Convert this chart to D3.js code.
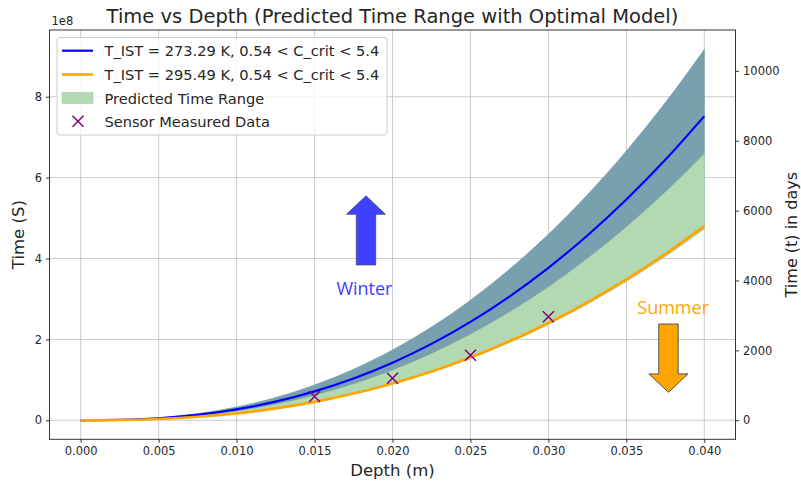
<!DOCTYPE html>
<html>
<head>
    <meta charset="utf-8">
    <title>Time vs Depth</title>
    <script src="https://cdnjs.cloudflare.com/ajax/libs/d3/7.8.5/d3.min.js"></script>
    <style>
        body { margin: 0; background: #fff; }
        text { font-family: "DejaVu Sans", sans-serif; fill: #262626; }
    </style>
</head>
<body>
<script type="text/javascript">
    // depth samples (m) and curves, in units of 1e8 s
    var depth = [0, 0.0025, 0.005, 0.0075, 0.01, 0.0125, 0.015, 0.0175, 0.02,
                 0.0225, 0.025, 0.0275, 0.03, 0.0325, 0.035, 0.0375, 0.04];
    var winterLine = [0, 0.0097, 0.051, 0.135, 0.270, 0.461, 0.715, 1.034, 1.425,
                      1.89, 2.434, 3.06, 3.77, 4.57, 5.46, 6.44, 7.52];
    var winterUpper = [0, 0.0118, 0.062, 0.165, 0.329, 0.562, 0.872, 1.261, 1.739,
                       2.306, 2.969, 3.733, 4.599, 5.575, 6.661, 7.857, 9.17];
    var winterLower = [0, 0.0085, 0.045, 0.119, 0.237, 0.405, 0.628, 0.908, 1.251,
                       1.659, 2.137, 2.687, 3.310, 4.012, 4.794, 5.654, 6.60];
    var summerLine = [0, 0.0062, 0.0326, 0.0862, 0.172, 0.294, 0.456, 0.660, 0.910,
                      1.206, 1.554, 1.953, 2.406, 2.917, 3.485, 4.111, 4.80];
    var summerLower = [0, 0.0061, 0.0321, 0.0849, 0.170, 0.290, 0.449, 0.650, 0.896,
                       1.188, 1.531, 1.924, 2.370, 2.873, 3.433, 4.049, 4.73];

    var sensorDepth = [0.015, 0.020, 0.025, 0.030];
    var sensorTime = [0.59, 1.04, 1.61, 2.56];

    var xTicks = [0, 0.005, 0.01, 0.015, 0.02, 0.025, 0.03, 0.035, 0.04];
    var yTicks = [0, 2, 4, 6, 8];
    var dayTicks = [0, 2000, 4000, 6000, 8000, 10000];

    var legendLabels = ["T_IST = 273.29 K, 0.54 < C_crit < 5.4",
                        "T_IST = 295.49 K, 0.54 < C_crit < 5.4",
                        "Predicted Time Range",
                        "Sensor Measured Data"];

    // annotation arrows: [x, yStart, yEnd] in data units (1e8 s)
    var winterArrow = [0.0183, 3.84, 5.55];
    var summerArrow = [0.0377, 2.38, 0.69];

    var width = 801,
        height = 486,
        plotL = 49.5, plotR = 735.5, plotT = 30, plotB = 439.3,
        sec = 1e8, secPerDay = 86400;

    var x = d3.scaleLinear().domain([-0.002, 0.042]).range([plotL, plotR]),
        y = d3.scaleLinear().domain([-0.47, 9.65]).range([plotB, plotT]),
        yDays = d3.scaleLinear()
            .domain([-0.47 * sec / secPerDay, 9.65 * sec / secPerDay])
            .range([plotB, plotT]);

    var svg = d3.select("body").append("svg")
        .attr("width", width)
        .attr("height", height);

    svg.append("defs").append("clipPath").attr("id", "plot")
        .append("rect")
        .attr("x", plotL).attr("y", plotT)
        .attr("width", plotR - plotL).attr("height", plotB - plotT);

    // grid
    var grid = svg.append("g").attr("stroke", "#b0b0b0").attr("stroke-width", 0.8).attr("opacity", 0.8);
    grid.selectAll("line.gx").data(xTicks).enter().append("line")
        .attr("x1", function(d){ return x(d); }).attr("x2", function(d){ return x(d); })
        .attr("y1", plotT).attr("y2", plotB);
    grid.selectAll("line.gy").data(yTicks).enter().append("line")
        .attr("y1", function(d){ return y(d); }).attr("y2", function(d){ return y(d); })
        .attr("x1", plotL).attr("x2", plotR);

    var plot = svg.append("g").attr("clip-path", "url(#plot)");

    function band(lo, hi){
        return d3.area()
            .x(function(d, i){ return x(depth[i]); })
            .y0(function(d, i){ return y(lo[i]); })
            .y1(function(d, i){ return y(hi[i]); })
            .curve(d3.curveMonotoneX)(depth);
    }
    function curve(vals){
        return d3.line()
            .x(function(d, i){ return x(depth[i]); })
            .y(function(d, i){ return y(vals[i]); })
            .curve(d3.curveMonotoneX)(depth);
    }

    plot.append("path").attr("d", band(summerLower, winterLower))
        .attr("fill", "#b2d9b2").attr("stroke", "#8fbf8f").attr("stroke-width", 0.6);
    plot.append("path").attr("d", band(winterLower, winterUpper))
        .attr("fill", "#79a0ae").attr("stroke", "#6e97a6").attr("stroke-width", 0.6);

    plot.append("path").attr("d", curve(winterLine))
        .attr("fill", "none").attr("stroke", "#0000ff").attr("stroke-width", 2.2);
    plot.append("path").attr("d", curve(summerLine))
        .attr("fill", "none").attr("stroke", "#ffa500").attr("stroke-width", 2.6);

    function cross(g, cx, cy, r){
        g.append("path")
            .attr("d", "M" + (cx - r) + "," + (cy - r) + "L" + (cx + r) + "," + (cy + r) +
                       "M" + (cx - r) + "," + (cy + r) + "L" + (cx + r) + "," + (cy - r))
            .attr("stroke", "#800080").attr("stroke-width", 1.5).attr("fill", "none");
    }
    sensorDepth.forEach(function(d, i){
        cross(plot, x(d), y(sensorTime[i]), 5.5);
    });

    // arrows
    function arrow(spec, fill, edge){
        var cx = x(spec[0]), y0 = y(spec[1]), y1 = y(spec[2]),
            dir = y1 < y0 ? -1 : 1,
            headLen = 18.5, shaftW = 9.7, headW = 19.5,
            yb = y1 - dir * headLen;
        var pts = [[cx - shaftW, y0], [cx - shaftW, yb], [cx - headW, yb], [cx, y1],
                   [cx + headW, yb], [cx + shaftW, yb], [cx + shaftW, y0]];
        svg.append("path")
            .attr("d", d3.line()(pts) + "Z")
            .attr("fill", fill).attr("stroke", edge).attr("stroke-width", 0.8);
    }
    arrow(winterArrow, "#4040ff", "#4a4a7a");
    arrow(summerArrow, "#ffa500", "#2a3550");

    svg.append("text").attr("x", x(0.0182)).attr("y", y(3.27))
        .attr("text-anchor", "middle").attr("dominant-baseline", "central")
        .style("font-family", "'Open Sans', sans-serif").style("font-size", "18px")
        .style("fill", "#4040ff").text("Winter");
    svg.append("text").attr("x", x(0.0380)).attr("y", y(2.81))
        .attr("text-anchor", "middle").attr("dominant-baseline", "central")
        .style("font-family", "'Open Sans', sans-serif").style("font-size", "18px")
        .style("fill", "#ffa500").text("Summer");

    // spines
    svg.append("rect")
        .attr("x", plotL).attr("y", plotT)
        .attr("width", plotR - plotL).attr("height", plotB - plotT)
        .attr("fill", "none").attr("stroke", "#333").attr("stroke-width", 1);

    // axes
    var xAxis = d3.axisBottom(x).tickValues(xTicks).tickFormat(d3.format(".3f")).tickSizeOuter(0).tickSize(3.5).tickPadding(4);
    var yAxis = d3.axisLeft(y).tickValues(yTicks).tickFormat(d3.format("d")).tickSizeOuter(0).tickSize(3.5).tickPadding(4);
    var rAxis = d3.axisRight(yDays).tickValues(dayTicks).tickFormat(d3.format("d")).tickSizeOuter(0).tickSize(3.5).tickPadding(4);

    [[xAxis, "translate(0," + plotB + ")"],
     [yAxis, "translate(" + plotL + ",0)"],
     [rAxis, "translate(" + plotR + ",0)"]].forEach(function(a){
        var g = svg.append("g").attr("transform", a[1]).call(a[0]);
        g.select(".domain").remove();
        g.selectAll("line").attr("stroke", "#333");
        g.selectAll("text").style("font-family", "'DejaVu Sans', sans-serif")
            .style("font-size", "11.5px").attr("fill", "#262626");
    });

    svg.append("text").attr("x", plotL + 2).attr("y", 25)
        .style("font-size", "11.5px").text("1e8");

    svg.append("text").attr("x", (plotL + plotR) / 2).attr("y", 23)
        .attr("text-anchor", "middle").style("font-size", "19.5px")
        .text("Time vs Depth (Predicted Time Range with Optimal Model)");

    svg.append("text").attr("x", (plotL + plotR) / 2).attr("y", 476)
        .attr("text-anchor", "middle").style("font-size", "16.5px").text("Depth (m)");

    svg.append("text").attr("transform", "translate(24," + (plotT + plotB) / 2 + ") rotate(-90)")
        .attr("text-anchor", "middle").style("font-size", "16.5px").text("Time (S)");

    svg.append("text").attr("transform", "translate(797," + (plotT + plotB) / 2 + ") rotate(-90)")
        .attr("text-anchor", "middle").style("font-size", "16px").text("Time (t) in days");

    // legend
    var lg = svg.append("g");
    lg.append("rect").attr("x", 57).attr("y", 37.5).attr("width", 330).attr("height", 97.5)
        .attr("rx", 3).attr("fill", "#fff").attr("fill-opacity", 0.8)
        .attr("stroke", "#cccccc").attr("stroke-width", 1);
    var rowY = [50.7, 74.5, 98, 121.3];
    lg.append("line").attr("x1", 62).attr("x2", 93).attr("y1", rowY[0]).attr("y2", rowY[0])
        .attr("stroke", "#0000ff").attr("stroke-width", 2.2);
    lg.append("line").attr("x1", 62).attr("x2", 93).attr("y1", rowY[1]).attr("y2", rowY[1])
        .attr("stroke", "#ffa500").attr("stroke-width", 2.6);
    lg.append("rect").attr("x", 62).attr("y", rowY[2] - 5.5).attr("width", 31).attr("height", 11)
        .attr("fill", "#b2d9b2").attr("stroke", "#9fcf9f").attr("stroke-width", 0.6);
    cross(lg, 78, rowY[3], 5.5);
    lg.selectAll("text.lbl").data(legendLabels).enter().append("text")
        .attr("x", 104.5).attr("y", function(d, i){ return rowY[i]; })
        .attr("dominant-baseline", "central")
        .style("font-size", "14.6px").text(function(d){ return d; });
</script>
</body>
</html>
